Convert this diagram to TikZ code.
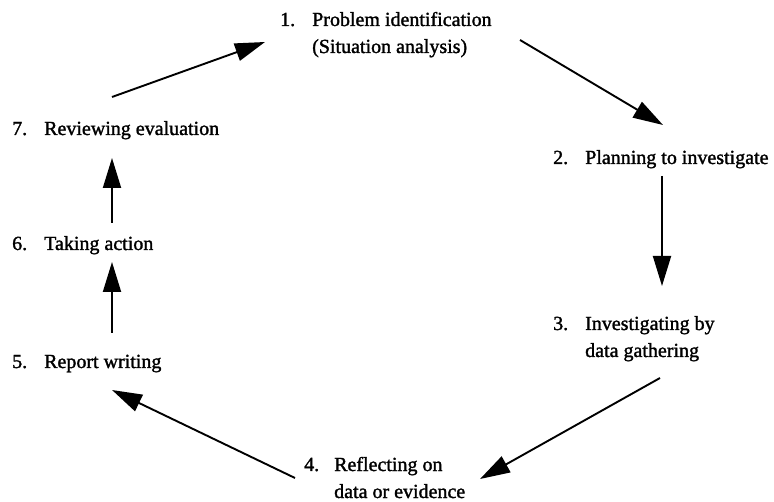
\documentclass[tikz,border=0pt]{standalone}
\usepackage{fontspec}
\setmainfont{Liberation Serif}
\newfontfamily\stepfont{Liberation Serif}[RawFeature={embolden=1.5}]
\usetikzlibrary{arrows.meta,positioning}

\begin{document}
\begin{tikzpicture}[x=1pt, y=-1pt, font=\stepfont\fontsize{20}{27}\selectfont,
        txt/.style={anchor=base west, inner sep=0pt, align=left},
        num/.style={anchor=base west, inner sep=0pt},
        flow/.style={-{Triangle[length=30pt,width=18pt]}, line width=1.9pt}]
        \useasboundingbox (0,0) rectangle (774,502);
        % step numbers, on the first line of each step
        \foreach \i/\x/\y in {1/280/26, 2/553/164, 3/553/330, 4/304/471,
                              5/12/368, 6/12/250, 7/12/135}
            \node[num] (n\i) at (\x,\y) {\i.};
        % steps of the cycle (base = last line)
        \node[txt] (t1) at (312,53)  {Problem identification\\(Situation analysis)};
        \node[txt] (t2) at (585,164) {Planning to investigate};
        \node[txt] (t3) at (585,357) {Investigating by\\data gathering};
        \node[txt] (t4) at (334,498) {Reflecting on\\data or evidence};
        \node[txt] (t5) at (44,368)  {Report writing};
        \node[txt] (t6) at (44,250)  {Taking action};
        \node[txt] (t7) at (44,135)  {Reviewing evaluation};
        % arrow ends
        \coordinate (o7) at (112,97);  \coordinate (i1) at (265,42);
        \coordinate (o1) at (520,40);  \coordinate (i2) at (663,125);
        \coordinate (o2) at (662,176); \coordinate (i3) at (662,286);
        \coordinate (o3) at (660,378); \coordinate (i4) at (480,479);
        \coordinate (o4) at (295,478); \coordinate (i5) at (112,390);
        \coordinate (o5) at (112,333); \coordinate (i6) at (112,262);
        \coordinate (o6) at (112,223); \coordinate (i7) at (112,158);
        \path[flow]
        (o1) edge (i2)
        (o2) edge (i3)
        (o3) edge (i4)
        (o4) edge (i5)
        (o5) edge (i6)
        (o6) edge (i7)
        (o7) edge (i1);
    \end{tikzpicture}
\end{document}
